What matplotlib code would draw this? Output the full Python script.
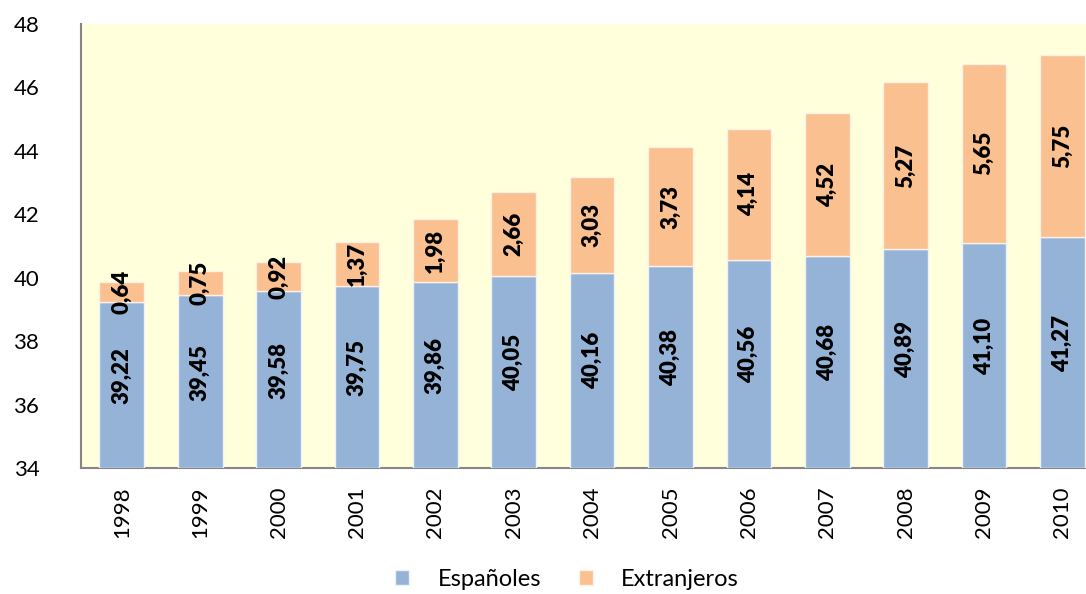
import matplotlib
matplotlib.use("Agg")
import matplotlib.pyplot as plt
import numpy as np

years = ["1998", "1999", "2000", "2001", "2002", "2003", "2004",
         "2005", "2006", "2007", "2008", "2009", "2010"]
espanoles = [39.22, 39.45, 39.58, 39.75, 39.86, 40.05, 40.16,
             40.38, 40.56, 40.68, 40.89, 41.10, 41.27]
extranjeros = [0.64, 0.75, 0.92, 1.37, 1.98, 2.66, 3.03,
               3.73, 4.14, 4.52, 5.27, 5.65, 5.75]

YMIN, YMAX = 34, 48
BLUE, ORANGE, BG = "#95B3D7", "#FAC090", "#FFFFDC"

plt.rcParams["font.family"] = ["Lato", "DejaVu Sans"]

fig = plt.figure(figsize=(10.86, 5.94), dpi=100)
ax = fig.add_axes([0.0746, 0.2121, 0.9254, 0.7475])
ax.set_facecolor(BG)

x = np.arange(len(years))
w = 0.57
esp = np.array(espanoles)
ext = np.array(extranjeros)

ax.bar(x, esp - YMIN, bottom=YMIN, width=w, color=BLUE, edgecolor="#EEF2F8",
       linewidth=1, label="Españoles", zorder=3)
ax.bar(x, ext, bottom=esp, width=w, color=ORANGE, edgecolor="#FDF0E4",
       linewidth=1, label="Extranjeros", zorder=3)

for xi, e, t in zip(x, esp, ext):
    ax.text(xi, (YMIN + e) / 2 + 0.3, f"{e:.2f}".replace(".", ","), rotation=90,
            ha="center", va="center", fontsize=16, fontweight="heavy", zorder=4)
    ax.text(xi, e + t / 2, f"{t:.2f}".replace(".", ","), rotation=90,
            ha="center", va="center", fontsize=16, fontweight="heavy", zorder=4)

ax.set_ylim(YMIN, YMAX)
ax.set_xlim(-0.52, 12.3)
ax.set_yticks(range(34, 49, 2))
ax.set_xticks(x)
ax.set_xticklabels(years, rotation=90)
ax.tick_params(axis="y", length=0, pad=30, labelsize=16)
ax.tick_params(axis="x", length=0, pad=13, labelsize=16)

for s in ["top", "right"]:
    ax.spines[s].set_visible(False)
for s in ["left", "bottom"]:
    ax.spines[s].set_color("#868686")
    ax.spines[s].set_linewidth(1.5)

handles, labels = ax.get_legend_handles_labels()
fig.legend(handles, labels, loc="center", bbox_to_anchor=(0.522, 0.025), ncol=2,
           frameon=False, fontsize=17, handlelength=0.6, handleheight=0.6,
           handletextpad=1.2, columnspacing=1.6)

fig.savefig("out.png", dpi=100)
